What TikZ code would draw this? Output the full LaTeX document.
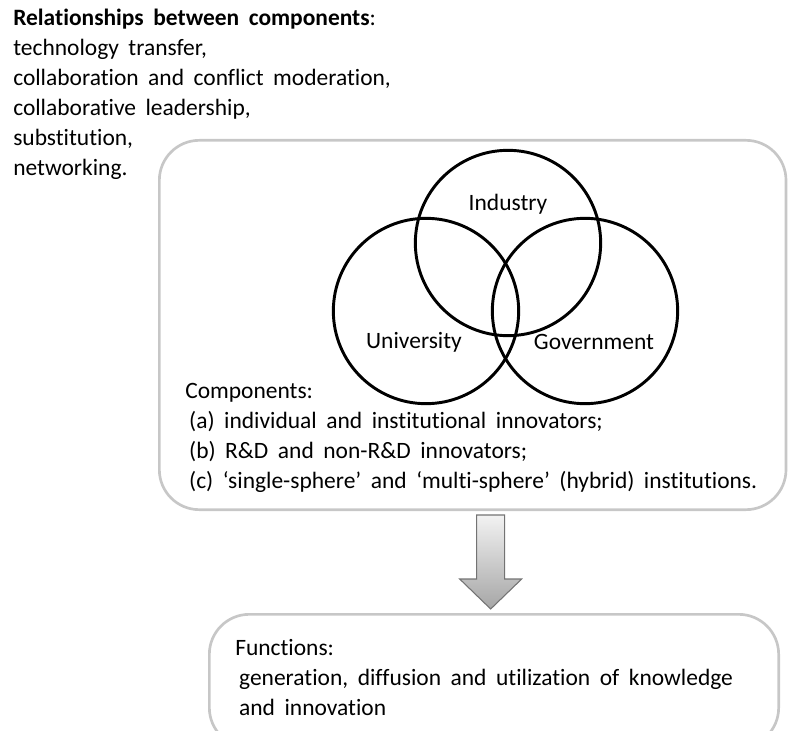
\documentclass[tikz,border=0pt]{standalone}
\usepackage{fontspec}
\setmainfont{Carlito}[Ligatures=NoCommon, WordSpace=1.8]
\usetikzlibrary{calc,positioning}

\tikzset{
  every node/.append style={font=\fontsize{17.6}{22.4}\selectfont, inner sep=0pt},
  panel/.style={draw=black!22, line width=2pt, rounded corners=30pt},
  sphere/.style={circle, draw=black, line width=2.2pt, minimum size=139pt},
  txt/.style={align=left, anchor=north west},
}

\begin{document}
\begin{tikzpicture}[x=0.75pt, y=-0.75pt]
\useasboundingbox (0,0) rectangle (789,731);

% relationships list, top left
\node[txt] (rel) at (13,9) {\textbf{Relationships between components}:\\
  technology transfer,\\
  collaboration and conflict moderation,\\
  collaborative leadership,\\
  substitution,\\
  networking.};

% main panel and the three spheres
\node[panel, minimum width=470pt, minimum height=277pt, anchor=north west] (outer) at (158,139) {};

\node[sphere] (ind) at (508,243) {};
\node[sphere] (uni) at (426,311) {};
\node[sphere] (gov) at (585,311) {};

\node (indL) at (508,204) {Industry};
\node (uniL) at (414,342) {University};
\node (govL) at (594,342) {Government};

\node[txt] (comp) at (185,383) {Components:\\
  \,(a) individual and institutional innovators;\\
  \,(b) R\&D and non-R\&D innovators;\\
  \,(c) `single-sphere' and `multi-sphere' (hybrid) institutions.};

% functions box
\node[panel, minimum width=427pt, minimum height=100pt, anchor=north west] (func) at (208,613) {};
\node[txt] (funcT) at (235,639) {Functions:\\
  \,generation, diffusion and utilization of knowledge\\
  \,and innovation};

% block arrow between the two panels
\coordinate (atop) at ([yshift=-3pt,xshift=-2.5pt]outer.south -| func.north);
\coordinate (atip) at ([yshift=3pt,xshift=-2.5pt]func.north);
\draw[draw=black!55, line width=0.8pt, top color=black!5, bottom color=black!35]
  ($(atop)+(-14,0)$) -- ($(atop)+(14,0)$) -- ($(atip)+(14,-30)$) -- ($(atip)+(31,-30)$)
  -- (atip) -- ($(atip)+(-31,-30)$) -- ($(atip)+(-14,-30)$) -- cycle;

\end{tikzpicture}
\end{document}
